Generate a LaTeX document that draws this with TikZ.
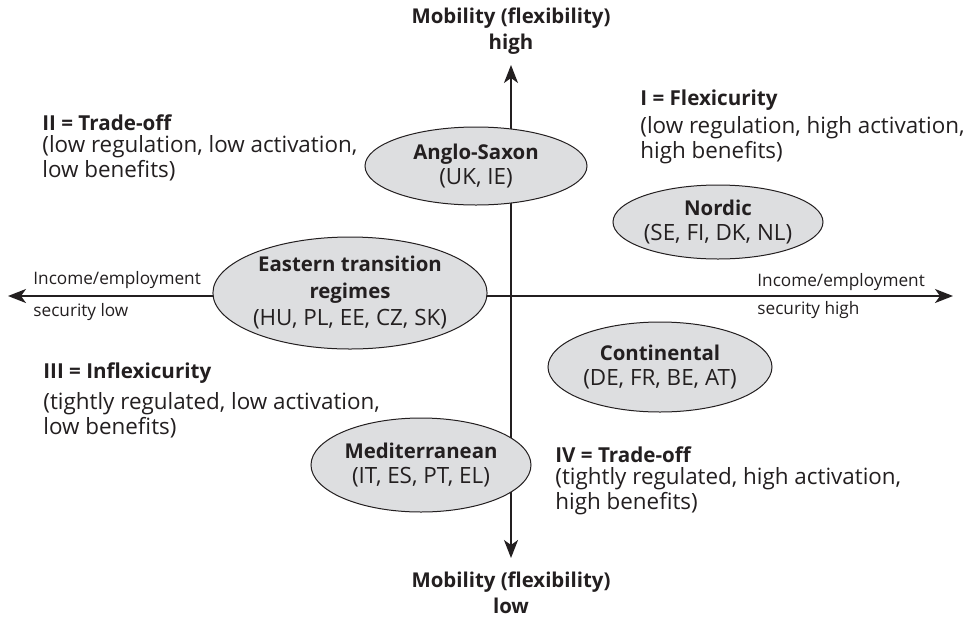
\documentclass[tikz,border=0pt]{standalone}
\usepackage{fontspec}
\setmainfont{Open Sans}
\usetikzlibrary{shapes.geometric,arrows.meta}
\definecolor{ellfill}{RGB}{221,222,224}
\definecolor{ink}{RGB}{35,31,32}
\newcommand\bodyfs{\fontsize{11.2}{10.8}\selectfont}
\newcommand\headfs{\fontsize{10.3}{12}\selectfont\bfseries}
\newcommand\ellfs{\fontsize{11.2}{12.3}\selectfont}
\newcommand\ellfsx{\fontsize{11.2}{13.5}\selectfont}
\newcommand\ellb[1]{{\fontsize{10.2}{12.3}\selectfont\bfseries #1}}
\newcommand\axfs{\fontsize{8.6}{11}\selectfont}
\newcommand\titlefs{\fontsize{10.2}{13}\selectfont\bfseries}
\tikzset{
  axisline/.style={draw=ink, line width=0.75pt,
    {Stealth[length=9pt,width=7pt,inset=2.5pt]}-{Stealth[length=9pt,width=7pt,inset=2.5pt]}},
  regime/.style={ellipse, draw=ink, fill=ellfill, line width=0.5pt, inner sep=0pt,
    align=center, font=\ellfs, text=ink},
  head/.style={anchor=west, font=\headfs, text=ink, inner sep=0pt},
  body/.style={anchor=west, align=left, font=\bodyfs, text=ink, inner sep=0pt},
  axlab/.style={anchor=west, font=\axfs, text=ink, inner sep=0pt},
  ttl/.style={align=center, font=\titlefs, text=ink, inner sep=0pt},
}
\begin{document}
\begin{tikzpicture}[x=0.5pt,y=-0.5pt]
\useasboundingbox[fill=white] (0,0) rectangle (971,617);
% axes
\coordinate (ytop) at (511,65);
\coordinate (ybot) at (511,558);
\coordinate (xl) at (8,296);
\coordinate (xr) at (953,296);
\draw[axisline] (ybot) -- (ytop);
\draw[axisline] (xl) -- (xr);
% titles
\node[ttl] (ttop) at (511,31.5) {Mobility (flexibility)\\high};
\node[ttl] (tbot) at (511,592.5) {Mobility (flexibility)\\low};
% axis labels
\node[axlab] (ll1) at (33,280) {Income/employment};
\node[axlab] (ll2) at (33,312) {security low};
\node[axlab] (rl1) at (757,282) {Income/employment};
\node[axlab] (rl2) at (757,310) {security high};
% quadrant texts
\node[head] (q2h) at (42,123) {II = Trade-off};
\node[body] (q2b) at (42,158) {(low regulation, low activation,\\low benefits)};
\node[head] (q1h) at (640,100) {I = Flexicurity};
\node[body] (q1b) at (640,140) {(low regulation, high activation,\\high benefits)};
\node[head] (q3h) at (43,373) {III = Inflexicurity};
\node[body] (q3b) at (43,415) {(tightly regulated, low activation,\\low benefits)};
\node[head] (q4h) at (555,455) {IV = Trade-off};
\node[body] (q4b) at (555,491) {(tightly regulated, high activation,\\high benefits)};
% regimes
\node[regime, minimum width=111pt, minimum height=39pt] (anglo) at (476,166)
  {\ellb{Anglo-Saxon}\\(UK, IE)};
\node[regime, minimum width=105pt, minimum height=37pt] (nordic) at (718,222)
  {\ellb{Nordic}\\(SE, FI, DK, NL)};
\node[regime, font=\ellfsx, minimum width=135pt, minimum height=56pt] (eastern) at (350,293)
  {\ellb{Eastern transition}\\\ellb{regimes}\\(HU, PL, EE, CZ, SK)};
\node[regime, minimum width=112pt, minimum height=45pt] (cont) at (660,367)
  {\ellb{Continental}\\(DE, FR, BE, AT)};
\node[regime, minimum width=110pt, minimum height=47pt] (med) at (421,465)
  {\ellb{Mediterranean}\\(IT, ES, PT, EL)};
\end{tikzpicture}
\end{document}
